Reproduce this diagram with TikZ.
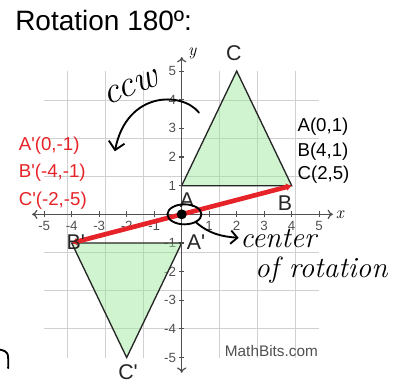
\documentclass[tikz,border=0pt]{standalone}
\usepackage{fontspec}
\newfontfamily\arialfont{Liberation Sans}
\usepackage{tikz}
\usetikzlibrary{arrows.meta,positioning,calc,shapes.geometric}
\definecolor{labelred}{RGB}{230,35,40}
\definecolor{gridgray}{RGB}{208,208,208}
\definecolor{axisgray}{RGB}{80,80,80}
\definecolor{trifill}{RGB}{150,230,150}

\begin{document}
\begin{tikzpicture}[x=20.625pt, y=21.49pt,
	gridline/.style={draw=gridgray, line width=0.9pt},
	axisline/.style={draw=axisgray, line width=0.9pt, {To[length=4pt,width=7pt]}-{To[length=4pt,width=7pt]}},
	tickmark/.style={draw=axisgray, line width=0.8pt},
	ticklbl/.style={font=\arialfont\fontsize{10}{12}\selectfont, text=axisgray, inner sep=0pt},
	triside/.style={draw=black!85, line width=1pt, fill=trifill, fill opacity=0.45},
	vtx/.style={font=\arialfont\fontsize{16}{19}\selectfont, text=black!85, inner sep=0pt, anchor=base},
	coordlbl/.style={font=\arialfont\fontsize{14}{17}\selectfont, inner sep=0pt, anchor=base west},
	rotline/.style={draw=labelred, line width=3.5pt, {Latex[length=4pt,width=6pt]}-{Latex[length=4pt,width=6pt]}},
	hand/.style={draw=black, line width=1.4pt, line cap=round},
	handtxt/.style={font=\fontsize{22}{26}\selectfont\itshape, inner sep=0pt, anchor=base west}]
		\useasboundingbox (-6.607,-5.888) rectangle (7.902,7.480);

		% grid and axes
		\draw[gridline] (-5,-5) grid (5,5);
		\coordinate (xmin) at (-5.44,0);
		\coordinate (xmax) at (5.5,0);
		\coordinate (ymin) at (0,-5.53);
		\coordinate (ymax) at (0,5.49);
		\foreach \k in {-5,...,-1,1,2,...,5} {
			\draw[tickmark] (\k,-0.1) -- (\k,0.1);
			\draw[tickmark] (-0.1,\k) -- (0.1,\k);
			\node[ticklbl, anchor=base] at (\k,-0.576) {\k};
			\node[ticklbl, anchor=east] at (-0.2,\k) {\k};
		}

		% triangles
		\coordinate (O) at (0,0);
		\coordinate (A) at (0,1);
		\coordinate (B) at (4,1);
		\coordinate (C) at (2,5);
		\coordinate (Ap) at (0,-1);
		\coordinate (Bp) at (-4,-1);
		\coordinate (Cp) at (-2,-5);
		\draw[triside] (A) -- (B) -- (C) -- cycle;
		\draw[triside] (Ap) -- (Bp) -- (Cp) -- cycle;

		\draw[axisline] (xmin) -- (xmax);
		\draw[axisline] (ymin) -- (ymax);
		\node[font=\itshape\fontsize{13}{15}\selectfont, inner sep=0pt] (xlbl) at (5.75,0) {x};
		\node[font=\itshape\fontsize{13}{15}\selectfont, inner sep=0pt] (ylbl) at (0.38,5.63) {y};

		\draw[rotline] (Bp) -- (B);
		\node[circle, fill=black, minimum size=7.5pt, inner sep=0pt] (dot) at (O) {};

		\node[vtx] (Clbl) at (1.90,5.36) {C};
		\node[vtx] (Albl) at (0.19,0.255) {A};
		\node[vtx] (Blbl) at (3.76,0.12) {B};
		\node[vtx] (Aplbl) at (0.52,-1.21) {A'};
		\node[vtx] (Bplbl) at (-3.85,-1.21) {B'};
		\node[vtx] (Cplbl) at (-1.95,-5.78) {C'};

		% coordinate lists
		\node[coordlbl] (alist) at (4.204,2.883) {A(0,1)};
		\node[coordlbl] (blist) at (4.204,2.035) {B(4,1)};
		\node[coordlbl] (clist) at (4.204,1.218) {C(2,5)};
		\node[coordlbl, text=labelred] (aplist) at (-5.93,2.244) {A'(0,-1)};
		\node[coordlbl, text=labelred] (bplist) at (-5.93,1.277) {B'(-4,-1)};
		\node[coordlbl, text=labelred] (cplist) at (-5.93,0.325) {C'(-2,-5)};

		\node[font=\arialfont\fontsize{21}{25}\selectfont, inner sep=0pt, anchor=base west] (title) at (-6.062,6.41) {Rotation 180º:};
		\node[font=\arialfont\fontsize{11.5}{14}\selectfont, text=axisgray, inner sep=0pt, anchor=base east] (credit) at (4.96,-4.97) {MathBits.com};

		% handwritten notes
		\node[ellipse, draw, line width=1.4pt, minimum width=25.5pt, minimum height=15pt, inner sep=0pt] (ring) at (0.1,0) {};
		\node[handtxt] (cword) at (2.12,-1.14) {center};
		\node[handtxt] (oword) at (2.66,-2.22) {of rotation};
		\draw[hand, -{Straight Barb[length=5pt,width=10pt]}, shorten >=1pt] (ring.-35) to[out=-40, in=175] (cword.west);

		\node[handtxt, anchor=center, rotate=21, font=\fontsize{28}{30}\selectfont\itshape] (ccw) at (-1.85,4.42) {ccw};
		\coordinate (ccwstart) at (0.63,3.55);
		\coordinate (ccwend) at (-2.43,2.2);
		\draw[hand, -{Straight Barb[length=6pt,width=12pt]}] (ccwstart) .. controls (0.0,4.3) and (-2.0,4.3) .. (ccwend);
		\draw[hand] (-6.61,-4.72) .. controls (-6.3,-4.8) .. (-6.31,-5.37);
	\end{tikzpicture}
\end{document}
